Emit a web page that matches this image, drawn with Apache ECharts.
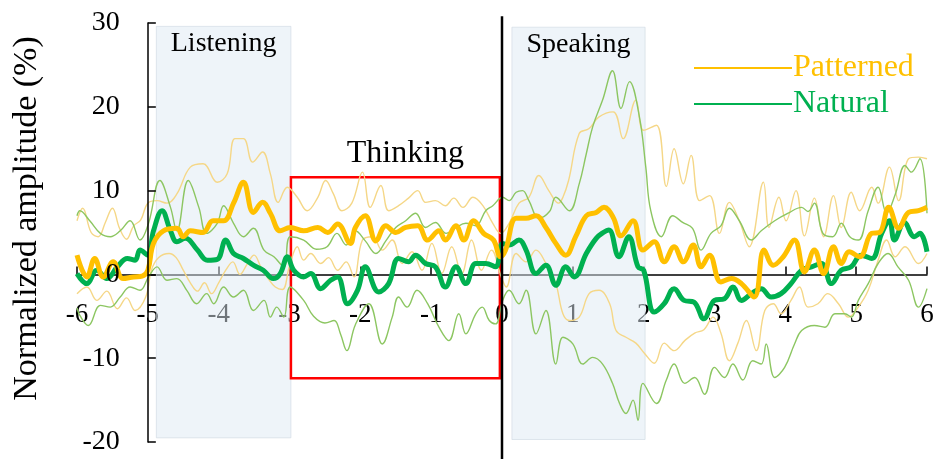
<!DOCTYPE html>
<html>
<head>
<meta charset="utf-8">
<script src="https://cdn.jsdelivr.net/npm/echarts@6/dist/echarts.min.js"></script>
<style>html,body{margin:0;padding:0;background:#fff;}#c{width:936px;height:459px;}</style>
</head>
<body>
<div id="c"></div>
<script>
// ---- data (time in s, normalized amplitude in %) ----
const patternedMean = [[-6,2.3],[-5.86,-0.3],[-5.75,1.9],[-5.63,-0.3],[-5.49,1.5],[-5.35,-0.5],[-5.2,-0.3],[-5.08,-0.2],[-5.0,0.5],[-4.92,3.7],[-4.78,5.2],[-4.59,5.5],[-4.5,4.5],[-4.4,5.2],[-4.22,5.0],[-4.08,6.4],[-3.93,6.4],[-3.79,8.5],[-3.65,11.0],[-3.51,7.4],[-3.38,8.6],[-3.27,7.3],[-3.13,5.2],[-2.99,5.6],[-2.8,5.2],[-2.6,5.6],[-2.46,5.0],[-2.32,6.0],[-2.14,3.7],[-2.07,5.6],[-1.93,7.0],[-1.78,4.0],[-1.64,5.8],[-1.5,5.0],[-1.36,5.6],[-1.19,5.8],[-1.05,4.1],[-0.89,5.2],[-0.8,4.1],[-0.65,5.8],[-0.54,4.1],[-0.4,6.4],[-0.26,4.9],[-0.12,4.1],[-0.02,2.1],[0.05,2.9],[0.2,6.7],[0.34,6.7],[0.48,7.0],[0.62,5.6],[0.76,3.7],[0.9,2.3],[1.04,4.5],[1.19,7.0],[1.33,7.4],[1.44,8.0],[1.57,6.8],[1.68,4.6],[1.85,6.4],[1.99,2.9],[2.15,3.9],[2.29,1.5],[2.43,3.3],[2.56,1.5],[2.7,3.5],[2.81,0.9],[2.93,2.3],[3.09,-0.9],[3.24,-0.5],[3.38,-1.1],[3.56,-2.7],[3.7,2.9],[3.83,1.1],[3.97,2.1],[4.13,4.1],[4.27,0.3],[4.41,2.9],[4.54,0.1],[4.68,3.3],[4.79,1.3],[4.9,2.7],[5.05,2.1],[5.22,4.9],[5.33,5.0],[5.46,8.0],[5.6,5.5],[5.74,7.4],[5.88,7.6],[6.0,8.0]];
const naturalMean = [[-6,0.1],[-5.86,-1.1],[-5.72,0.5],[-5.58,-0.5],[-5.43,0.9],[-5.29,1.9],[-5.18,1.7],[-5.11,2.9],[-5.0,2.3],[-4.92,5.2],[-4.8,7.6],[-4.68,5.2],[-4.59,3.9],[-4.47,4.3],[-4.3,2.9],[-4.16,1.7],[-4.02,1.8],[-3.9,4.1],[-3.79,2.5],[-3.65,1.9],[-3.51,1.1],[-3.37,0.5],[-3.23,-0.5],[-3.13,0.1],[-3.03,2.1],[-2.94,0.5],[-2.8,-0.3],[-2.7,0.1],[-2.56,-1.7],[-2.42,-0.7],[-2.32,-0.3],[-2.18,-3.5],[-2.04,-1.9],[-1.93,0.9],[-1.74,-2.1],[-1.6,-1.1],[-1.46,1.9],[-1.32,1.5],[-1.22,2.3],[-1.08,1.3],[-0.94,0.9],[-0.8,-1.5],[-0.65,0.9],[-0.51,-1.1],[-0.37,1.3],[-0.23,1.3],[-0.09,0.9],[0.01,3.7],[0.1,3.5],[0.24,4.1],[0.34,2.9],[0.48,0.1],[0.62,1.1],[0.76,-1.3],[0.9,0.9],[1.02,-0.3],[1.19,2.5],[1.33,4.3],[1.43,5.0],[1.51,5.3],[1.65,2.1],[1.79,4.5],[1.92,0.9],[2.0,0.5],[2.15,-4.5],[2.29,-3.5],[2.43,-1.7],[2.57,-3.1],[2.71,-3.3],[2.85,-5.3],[3.0,-3.1],[3.14,-2.9],[3.26,-1.5],[3.38,-3.1],[3.52,-2.3],[3.66,-1.7],[3.8,-2.7],[3.94,-2.3],[4.08,-1.1],[4.23,0.5],[4.37,0.9],[4.51,1.3],[4.65,-1.1],[4.79,0.5],[4.93,0.9],[5.07,2.3],[5.22,1.9],[5.36,4.9],[5.47,6.4],[5.54,4.1],[5.68,6.2],[5.82,4.5],[5.9,4.9],[6.0,2.7]];
const patternedUpper = [[-6,6.4],[-5.92,7.9],[-5.8,5.0],[-5.7,4.5],[-5.6,6.2],[-5.5,7.9],[-5.4,5.5],[-5.3,4.2],[-5.2,5.8],[-5.1,6.5],[-5.0,8.5],[-4.87,8.8],[-4.73,8.5],[-4.59,9.6],[-4.4,12.8],[-4.22,13.2],[-4.02,11.0],[-3.88,12.0],[-3.77,16.2],[-3.65,16.2],[-3.52,13.4],[-3.38,14.6],[-3.27,12.0],[-3.16,8.6],[-3.03,10.4],[-2.89,9.2],[-2.75,7.6],[-2.6,9.2],[-2.49,11.2],[-2.38,9.6],[-2.26,7.6],[-2.12,8.5],[-1.97,12.2],[-1.86,8.0],[-1.71,10.6],[-1.6,7.6],[-1.46,8.2],[-1.32,9.1],[-1.19,10.0],[-1.08,8.6],[-0.94,8.8],[-0.8,8.2],[-0.68,9.1],[-0.55,8.0],[-0.41,9.2],[-0.27,8.2],[-0.13,6.1],[-0.02,4.9],[0.1,6.1],[0.24,8.5],[0.38,9.2],[0.52,11.8],[0.66,10.0],[0.8,8.5],[0.86,9.2],[0.94,11.2],[1.09,16.8],[1.23,17.4],[1.37,18.8],[1.57,19.4],[1.71,16.2],[1.89,20.8],[2.0,17.2],[2.18,17.8],[2.32,10.5],[2.43,15.0],[2.56,10.8],[2.67,14.2],[2.79,8.8],[2.93,9.4],[3.07,4.9],[3.21,8.6],[3.35,6.4],[3.49,3.3],[3.69,11.0],[3.77,5.6],[3.91,9.2],[4.01,6.4],[4.15,10.0],[4.27,4.6],[4.41,9.1],[4.54,4.5],[4.68,9.4],[4.79,5.6],[4.93,9.8],[5.05,7.6],[5.22,10.4],[5.31,8.5],[5.47,12.8],[5.6,8.8],[5.74,13.8],[5.88,14.0],[6.0,13.8]];
const patternedLower = [[-6,-2.3],[-5.86,-1.5],[-5.72,-3.1],[-5.58,-2.0],[-5.43,-4.1],[-5.3,-2.8],[-5.18,-4.3],[-5.03,-2.7],[-4.95,0.5],[-4.85,2.0],[-4.7,2.5],[-4.6,2.0],[-4.5,0.5],[-4.4,-1.0],[-4.3,-2.0],[-4.2,-1.0],[-4.1,-2.3],[-4.0,-1.0],[-3.9,0.5],[-3.8,1.5],[-3.7,0.0],[-3.6,1.2],[-3.5,2.3],[-3.4,0.8],[-3.3,-0.5],[-3.2,-1.5],[-3.1,-1.8],[-3.0,1.0],[-2.89,3.3],[-2.8,1.7],[-2.7,2.5],[-2.56,1.3],[-2.45,2.0],[-2.32,0.5],[-2.2,1.5],[-2.09,-0.3],[-1.97,4.1],[-1.83,4.5],[-1.69,2.9],[-1.55,4.1],[-1.41,1.3],[-1.27,2.7],[-1.13,0.5],[-0.99,3.7],[-0.85,0.1],[-0.71,3.3],[-0.57,0.1],[-0.43,4.1],[-0.29,0.5],[-0.15,2.9],[-0.01,-0.3],[0.06,-1.5],[0.2,2.5],[0.34,1.5],[0.48,2.9],[0.62,1.3],[0.76,-1.1],[0.86,-4.7],[0.95,-5.5],[1.09,-5.1],[1.23,-2.3],[1.37,-1.9],[1.52,-3.5],[1.61,-6.7],[1.75,-7.5],[1.89,-8.2],[2.01,-9.4],[2.15,-10.6],[2.29,-8.2],[2.43,-9.1],[2.58,-7.9],[2.72,-7.0],[2.85,-6.6],[2.98,-5.1],[3.09,-7.0],[3.21,-10.3],[3.33,-8.2],[3.45,-5.5],[3.59,-9.1],[3.71,-4.3],[3.83,-3.5],[3.94,-4.7],[4.08,-3.1],[4.2,-1.5],[4.32,-3.9],[4.46,-3.5],[4.6,-2.3],[4.75,-3.5],[4.89,-5.1],[5.03,-3.9],[5.17,-1.9],[5.31,1.7],[5.43,4.1],[5.55,2.1],[5.69,3.3],[5.88,1.3],[6.0,2.5]];
const naturalUpper = [[-6,7.0],[-5.96,7.6],[-5.82,6.4],[-5.67,4.9],[-5.53,4.5],[-5.39,5.2],[-5.25,6.4],[-5.11,4.1],[-4.99,6.1],[-4.83,11.2],[-4.68,8.0],[-4.59,5.2],[-4.43,11.2],[-4.28,8.0],[-4.17,4.9],[-4.02,6.1],[-3.93,8.2],[-3.79,6.1],[-3.65,4.5],[-3.51,5.5],[-3.36,2.9],[-3.22,2.1],[-3.08,0.9],[-2.99,4.5],[-2.8,4.1],[-2.62,3.0],[-2.47,3.3],[-2.33,4.9],[-2.2,3.5],[-2.07,5.2],[-1.93,4.0],[-1.78,2.5],[-1.64,4.0],[-1.5,5.6],[-1.36,6.4],[-1.22,7.3],[-1.08,5.6],[-0.94,6.2],[-0.79,4.9],[-0.65,5.6],[-0.51,6.1],[-0.37,5.8],[-0.23,7.6],[-0.13,8.2],[0.01,9.2],[0.1,8.8],[0.2,9.8],[0.29,10.0],[0.38,8.8],[0.52,6.7],[0.67,7.5],[0.76,9.2],[0.95,7.6],[1.09,10.8],[1.19,14.4],[1.28,17.6],[1.42,20.8],[1.56,24.3],[1.68,19.8],[1.8,23.0],[1.94,18.8],[2.03,12.8],[2.1,7.6],[2.25,4.5],[2.41,7.0],[2.55,6.2],[2.69,5.5],[2.81,2.9],[2.95,4.9],[3.09,5.8],[3.21,7.9],[3.35,6.4],[3.52,4.1],[3.66,5.2],[3.85,6.4],[4.04,7.3],[4.23,8.0],[4.32,7.5],[4.41,8.5],[4.53,4.9],[4.67,4.5],[4.79,6.1],[4.91,4.5],[5.03,4.1],[5.17,7.6],[5.31,10.4],[5.43,7.3],[5.55,9.5],[5.69,13.0],[5.78,12.2],[5.9,13.8],[6.0,7.3]];
const naturalLower = [[-6,-4.0],[-5.96,-4.9],[-5.84,-6.1],[-5.67,-3.7],[-5.53,-3.9],[-5.39,-2.7],[-5.25,-1.5],[-5.11,-1.9],[-4.99,-0.3],[-4.87,0.9],[-4.73,-0.7],[-4.59,-0.5],[-4.45,-1.9],[-4.31,-3.5],[-4.17,-2.3],[-4.07,-3.5],[-3.93,-1.5],[-3.79,-2.7],[-3.65,-1.9],[-3.51,-4.3],[-3.36,-3.1],[-3.27,-5.1],[-3.18,-3.9],[-3.08,-5.1],[-2.99,-1.5],[-2.8,-3.1],[-2.66,-5.0],[-2.5,-5.8],[-2.37,-5.5],[-2.28,-7.1],[-2.19,-9.1],[-2.07,-6.0],[-1.88,-3.5],[-1.69,-8.3],[-1.55,-5.1],[-1.46,-2.7],[-1.34,-3.9],[-1.2,-1.9],[-1.05,-3.5],[-0.89,-6.3],[-0.75,-7.9],[-0.61,-4.7],[-0.51,-7.1],[-0.37,-4.7],[-0.28,-3.9],[-0.18,-5.5],[-0.09,-5.9],[0.01,-3.1],[0.1,-1.9],[0.24,-3.5],[0.34,-1.9],[0.48,-7.1],[0.62,-4.3],[0.76,-10.7],[0.86,-7.5],[1.0,-8.3],[1.14,-10.7],[1.28,-9.9],[1.42,-10.7],[1.56,-13.0],[1.66,-15.4],[1.75,-16.6],[1.85,-15.0],[1.92,-17.4],[1.99,-13.0],[2.18,-15.4],[2.32,-12.6],[2.43,-10.7],[2.58,-13.0],[2.72,-12.3],[2.86,-14.3],[3.0,-11.1],[3.14,-12.3],[3.26,-10.7],[3.4,-12.6],[3.54,-10.3],[3.66,-10.7],[3.73,-8.3],[3.85,-12.3],[3.99,-11.1],[4.13,-8.3],[4.23,-6.7],[4.41,-6.1],[4.56,-6.3],[4.7,-4.7],[4.84,-4.7],[4.93,-5.1],[5.03,-3.1],[5.17,-1.1],[5.31,1.3],[5.45,2.5],[5.59,0.9],[5.74,-0.7],[5.88,-3.9],[6.0,-1.7]];

// phase regions: [label, xStart, yTop, xEnd, yBottom]
const listeningRegion = ['Listening', -4.88, 29.6, -2.98, -19.5];
const speakingRegion = ['Speaking', 0.14, 29.5, 2.02, -19.7];
const thinkingBox = ['Thinking', -2.98, 11.6, -0.03, -12.4];
const onsetLine = [[0, 30.8], [0, -22.1]];

const xRange = { min: -6, max: 6, interval: 1 };
const yRange = { min: -20, max: 30, interval: 10 };
const yAxisAtX = -5;   // the y axis is drawn at t = -5
const xAxisAtY = 0;    // the x axis is drawn at amplitude 0
const seriesNames = ['Patterned', 'Natural'];

// ---- chart ----
const FONT = "'Liberation Serif','Times New Roman',serif";
const YELLOW = '#ffc000', GREEN = '#00b050';
const YELLOW_LIGHT = '#f5d787', GREEN_LIGHT = '#8cc661';
const W = 936, H = 459;
const GRID = { left: 77, right: 9, top: 23, bottom: 17 };
const gridW = W - GRID.left - GRID.right, gridH = H - GRID.top - GRID.bottom;
// axis offsets derived from the scale so the axes cross where the original does
const yOffset = -((yAxisAtX - xRange.min) / (xRange.max - xRange.min)) * gridW;
const xOffset = -((xAxisAtY - yRange.min) / (yRange.max - yRange.min)) * gridH;

function thin(name, data, color) {
  return { name, type: 'line', data, smooth: 0.4, symbol: 'none', z: 2,
    lineStyle: { color, width: 1.4 }, itemStyle: { color }, silent: true };
}
function thick(name, data, color) {
  return { name, type: 'line', data, smooth: 0.4, symbol: 'none', z: 3,
    lineStyle: { color, width: 5 }, itemStyle: { color }, silent: true };
}
function region(r) {
  return [{ name: r[0], coord: [r[1], r[2]] }, { coord: [r[3], r[4]] }];
}

const chart = echarts.init(document.getElementById('c'), null, { renderer: 'canvas' });
chart.setOption({
  animation: false,
  backgroundColor: '#fff',
  grid: Object.assign({ containLabel: false, outerBoundsMode: 'none' }, GRID),
  legend: {
    data: [
      { name: seriesNames[0], icon: 'rect', textStyle: { color: YELLOW } },
      { name: seriesNames[1], icon: 'rect', textStyle: { color: GREEN } }
    ],
    orient: 'vertical', left: 694, top: 52, padding: 0, itemWidth: 98, itemHeight: 2, itemGap: 4,
    textStyle: { fontFamily: FONT, fontSize: 32, padding: [0, 0, 0, -4], lineHeight: 32 },
    selectedMode: false
  },
  xAxis: {
    type: 'value', min: xRange.min, max: xRange.max, interval: xRange.interval,
    position: 'bottom', offset: xOffset,
    axisLine: { onZero: false, lineStyle: { color: '#000', width: 1.5 } },
    axisTick: { inside: true, length: 8, lineStyle: { color: '#000', width: 1.5 } },
    axisLabel: { color: '#000', fontFamily: FONT, fontSize: 27, margin: 27 },
    splitLine: { show: false }
  },
  yAxis: {
    type: 'value', min: yRange.min, max: yRange.max, interval: yRange.interval,
    position: 'left', offset: yOffset, z: 4,
    name: 'Normalized amplitude (%)', nameLocation: 'middle', nameGap: 104,
    nameTextStyle: { color: '#000', fontFamily: FONT, fontSize: 34, padding: [0, 0, 0, 28] },
    axisLine: { show: true, onZero: false, lineStyle: { color: '#000', width: 1.5 } },
    axisTick: { inside: true, length: 8, lineStyle: { color: '#000', width: 1.5 } },
    axisLabel: { color: '#000', fontFamily: FONT, fontSize: 28, margin: 28 },
    splitLine: { show: false }
  },
  series: [
    thin('Patterned upper', patternedUpper, YELLOW_LIGHT),
    thin('Patterned lower', patternedLower, YELLOW_LIGHT),
    thin('Natural upper', naturalUpper, GREEN_LIGHT),
    thin('Natural lower', naturalLower, GREEN_LIGHT),
    thick(seriesNames[1], naturalMean, GREEN),
    thick(seriesNames[0], patternedMean, YELLOW),
    {
      name: 'phases', type: 'line', data: [], z: 10, silent: true,
      markArea: {
        silent: true,
        itemStyle: { color: 'rgba(222,233,243,0.5)', borderColor: 'rgba(205,215,225,0.6)', borderWidth: 1 },
        label: { show: true, position: 'insideTop', distance: 4, color: '#000', fontFamily: FONT, fontSize: 28 },
        data: [region(listeningRegion), region(speakingRegion)]
      }
    },
    {
      name: 'thinking', type: 'line', data: [], z: 11, silent: true,
      markArea: {
        silent: true,
        itemStyle: { color: 'rgba(0,0,0,0)', borderColor: '#ff0000', borderWidth: 2.5 },
        label: { show: true, position: 'top', distance: 6, offset: [10, 0], color: '#000', fontFamily: FONT, fontSize: 32 },
        data: [region(thinkingBox)]
      }
    },
    {
      name: 'onset', type: 'line', data: onsetLine, z: 12, clip: false, silent: true,
      symbol: 'none', lineStyle: { color: '#000', width: 2.5 }
    }
  ]
});
</script>
</body>
</html>
